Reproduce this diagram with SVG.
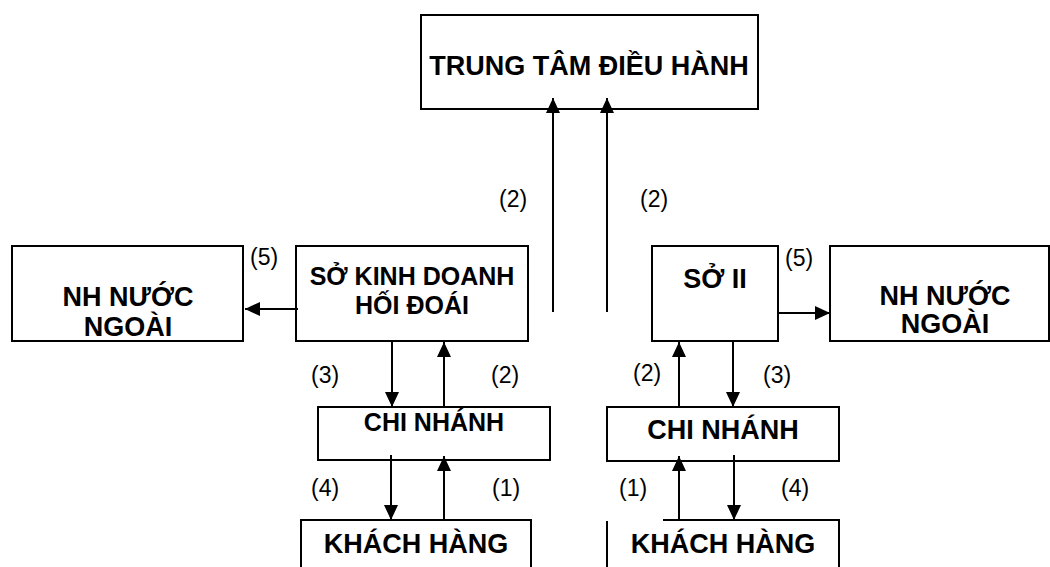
<svg xmlns="http://www.w3.org/2000/svg" width="1050" height="567" viewBox="0 0 1050 567">
<style>
.box{fill:#fff;stroke:#000;stroke-width:2}
.open{fill:none;stroke:#000;stroke-width:2}
.t{font-family:"Liberation Sans",Arial,sans-serif;font-weight:bold;text-anchor:middle;fill:#000}
.l{font-family:"Liberation Sans",Arial,sans-serif;font-size:23px;fill:#000}
.c{stroke:#000;stroke-width:2;fill:none;marker-end:url(#ah)}
</style>
<defs>
<marker id="ah" markerUnits="userSpaceOnUse" markerWidth="14" markerHeight="15" refX="15" refY="7" orient="auto">
<path d="M0,0 L15,7 L0,14 z" fill="#000"/>
</marker>
</defs>
<rect width="1050" height="567" fill="#fff"/>
<g id="trung-tam">
<rect class="box" x="421" y="15" width="337" height="94"/>
<text class="t" x="589" y="75" font-size="27">TRUNG TÂM ĐIỀU HÀNH</text>
</g>
<g id="nh-nuoc-ngoai-trai">
<rect class="box" x="12" y="246" width="231" height="95"/>
<text class="t" x="128" y="306" font-size="27">NH NƯỚC</text>
<text class="t" x="128" y="336" font-size="27">NGOÀI</text>
</g>
<g id="so-kinh-doanh">
<rect class="box" x="296" y="246" width="232" height="95"/>
<text class="t" x="412" y="285" font-size="25">SỞ KINH DOANH</text>
<text class="t" x="412" y="314" font-size="25">HỐI ĐOÁI</text>
</g>
<g id="so-ii">
<rect class="box" x="652" y="246" width="126" height="95"/>
<text class="t" x="715" y="288" font-size="27">SỞ II</text>
</g>
<g id="nh-nuoc-ngoai-phai">
<rect class="box" x="830" y="246" width="219" height="95"/>
<text class="t" x="945" y="305" font-size="27">NH NƯỚC</text>
<text class="t" x="945" y="333" font-size="27">NGOÀI</text>
</g>
<g id="chi-nhanh-trai">
<rect class="box" x="318" y="407" width="232" height="53"/>
<text class="t" x="434" y="431" font-size="25">CHI NHÁNH</text>
</g>
<g id="chi-nhanh-phai">
<rect class="box" x="607" y="407" width="232" height="54"/>
<text class="t" x="723" y="439" font-size="27">CHI NHÁNH</text>
</g>
<g id="khach-hang-trai">
<rect class="box" x="301" y="520" width="230" height="70"/>
<text class="t" x="416" y="553" font-size="27">KHÁCH HÀNG</text>
</g>
<g id="khach-hang-phai">
<path class="open" d="M663,520 H839 V590 M607,521 V590"/>
<text class="t" x="723" y="553" font-size="27">KHÁCH HÀNG</text>
</g>
<g id="connectors">
<line class="c" x1="553" y1="312" x2="553" y2="98"/>
<line class="c" x1="607" y1="312" x2="607" y2="98"/>
<line class="c" x1="298" y1="309" x2="245" y2="309"/>
<line class="c" x1="392" y1="341" x2="392" y2="407"/>
<line class="c" x1="444" y1="407" x2="444" y2="342"/>
<line class="c" x1="391" y1="455" x2="391" y2="520"/>
<line class="c" x1="444" y1="521" x2="444" y2="456"/>
<line class="c" x1="778" y1="313" x2="830" y2="313"/>
<line class="c" x1="679" y1="407" x2="679" y2="342"/>
<line class="c" x1="733" y1="341" x2="733" y2="407"/>
<line class="c" x1="679" y1="520" x2="679" y2="456"/>
<line class="c" x1="734" y1="455" x2="734" y2="520"/>
</g>
<g id="labels">
<text class="l" x="499" y="207">(2)</text>
<text class="l" x="640" y="207">(2)</text>
<text class="l" x="250" y="265">(5)</text>
<text class="l" x="785" y="266">(5)</text>
<text class="l" x="311" y="383">(3)</text>
<text class="l" x="491" y="383">(2)</text>
<text class="l" x="633" y="381">(2)</text>
<text class="l" x="763" y="383">(3)</text>
<text class="l" x="311" y="496">(4)</text>
<text class="l" x="492" y="496">(1)</text>
<text class="l" x="619" y="496">(1)</text>
<text class="l" x="781" y="496">(4)</text>
</g>
</svg>
